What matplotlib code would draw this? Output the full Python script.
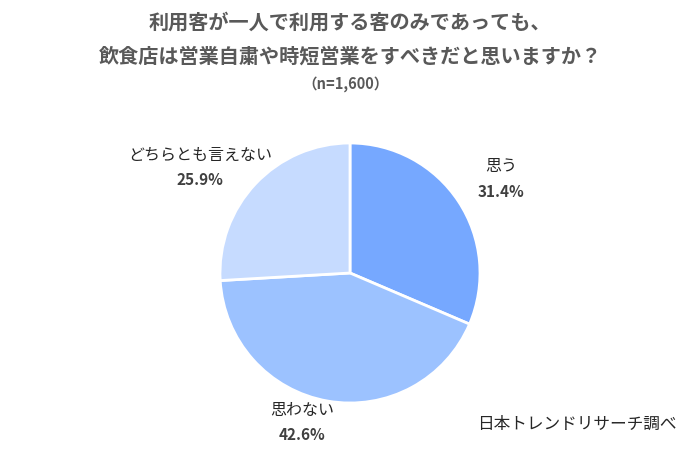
import matplotlib
matplotlib.use('Agg')
import matplotlib.pyplot as plt

plt.rcParams['font.family'] = ['Noto Sans CJK JP', 'DejaVu Sans']

labels = ['思う', '思わない', 'どちらとも言えない']
values = [31.4, 42.6, 25.9]
colors = ['#76A8FF', '#9CC2FF', '#C6DBFF']
label_pos = [(501, 167), (302, 410), (200, 155)]  # pixel centres of label text

W, H = 700, 450
fig = plt.figure(figsize=(7, 4.5), dpi=100)

# pie axes: centre (350, 273), radius 130 px
ax = fig.add_axes([220 / W, (H - 403) / H, 260 / W, 260 / H])
ax.pie(values, colors=colors, startangle=90, counterclock=False,
       wedgeprops=dict(edgecolor='white', linewidth=2))
ax.set_aspect('auto')
ax.set_xlim(-1, 1); ax.set_ylim(-1, 1)

title_col = '#595959'
fig.text(350 / W, 1 - 22 / H, '利用客が一人で利用する客のみであっても、',
         ha='center', va='center', fontsize=14.5, fontweight='bold', color=title_col)
fig.text(350 / W, 1 - 56 / H, '飲食店は営業自粛や時短営業をすべきだと思いますか？',
         ha='center', va='center', fontsize=14.5, fontweight='bold', color=title_col)
fig.text(346 / W, 1 - 84 / H, '（n=1,600）',
         ha='center', va='center', fontsize=10.5, fontweight='bold', color=title_col)

for lab, val, (x, y) in zip(labels, values, label_pos):
    fig.text(x / W, 1 - y / H, lab, ha='center', va='center',
             fontsize=11.5, color='#262626')
    fig.text(x / W, 1 - (y + 25) / H, f'{val:.1f}%', ha='center', va='center',
             fontsize=11, fontweight='bold', color='#404040')

fig.text(577 / W, 1 - 424 / H, '日本トレンドリサーチ調べ', ha='center', va='center',
         fontsize=12, color='#262626')

fig.savefig('out.png', dpi=100, facecolor='white')
